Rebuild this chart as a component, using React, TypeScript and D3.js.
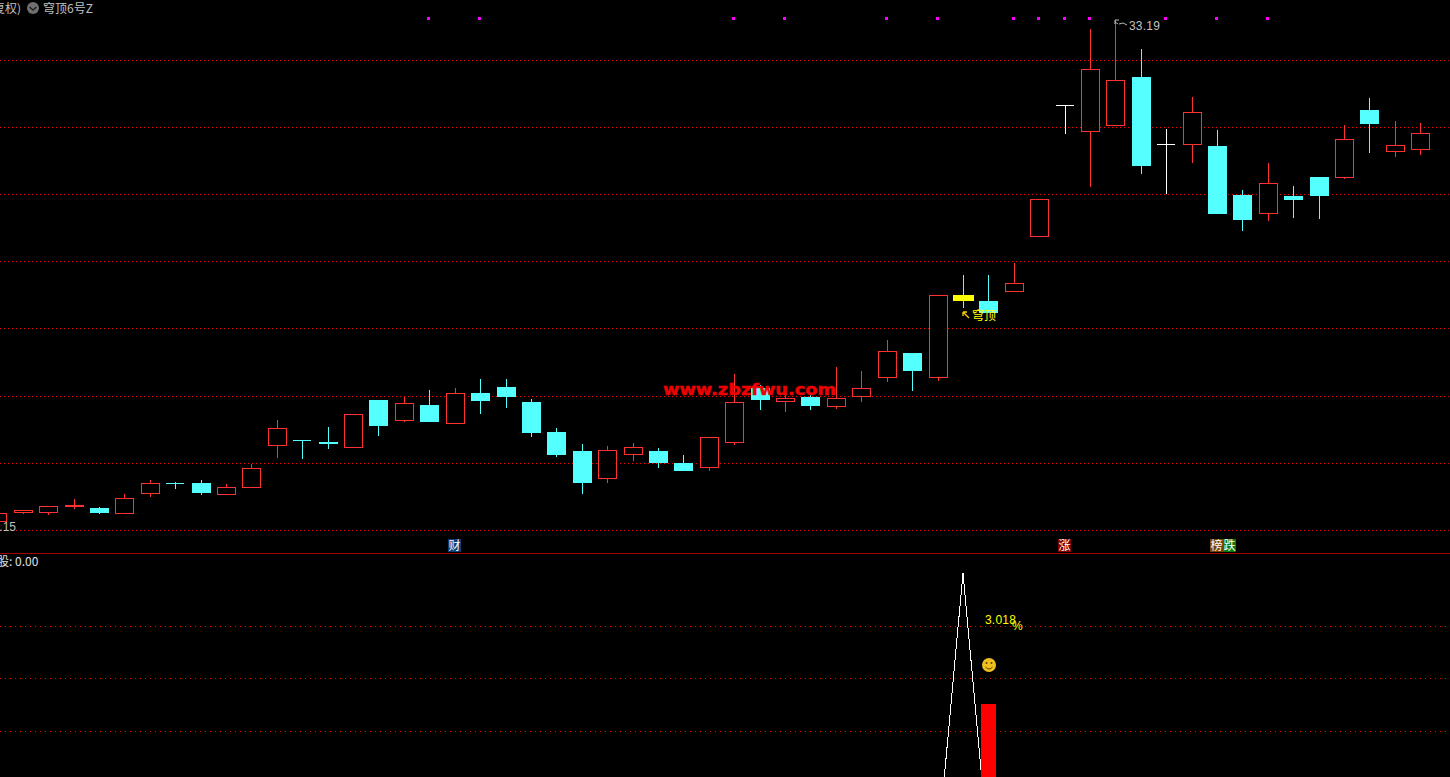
import React from "react";
import * as d3 from "d3";

// Daily candles, prices
const opens = [8.09,8.54,8.54,8.84,8.79,8.49,9.49,10.04,10.04,9.44,9.79,11.89,12.19,12.09,11.79,14.19,13.14,13.94,12.99,14.54,14.84,14.09,12.59,11.64,10.24,11.44,11.64,11.04,10.79,12.04,14.79,14.09,14.34,13.84,14.34,15.29,16.54,15.29,19.44,19.14,19.59,22.34,28.94,27.59,27.89,30.34,26.99,26.94,26.89,24.44,23.49,24.39,25.34,25.29,28.69,26.59,26.69];
const closes = [8.54,8.69,8.89,8.94,8.54,9.29,10.04,10.03,9.54,9.84,10.79,12.79,12.18,11.99,13.49,12.89,14.04,13.09,14.54,14.14,14.34,12.54,11.44,10.04,11.69,11.84,11.04,10.64,12.34,14.09,14.19,14.29,13.89,14.29,14.79,16.64,15.64,19.44,19.14,18.54,20.04,24.24,28.94,30.74,30.19,25.89,26.99,28.59,23.49,23.19,25.04,24.19,24.39,27.24,27.99,26.94,27.54];
const highs = [8.54,8.69,8.89,9.24,8.84,9.49,10.19,10.09,10.19,9.99,10.99,13.19,12.19,12.84,13.49,14.19,14.34,14.69,14.79,15.24,15.24,14.24,12.79,11.99,11.89,12.04,11.79,11.44,12.34,15.49,14.94,14.54,14.54,15.84,15.64,17.19,16.54,19.44,20.44,20.44,21.04,24.24,28.94,32.74,33.19,31.74,27.74,29.34,27.69,24.69,26.04,24.89,25.34,27.94,29.29,28.14,28.04];
const lows = [7.84,8.49,8.44,8.74,8.49,8.49,9.34,9.74,9.44,9.44,9.79,11.29,11.24,11.74,11.79,12.39,13.09,13.09,12.99,13.49,13.79,12.34,11.34,9.49,10.04,11.14,10.79,10.64,10.64,11.94,13.69,13.59,13.69,13.74,14.09,15.09,14.64,15.14,18.79,18.54,19.59,22.34,27.49,24.84,27.89,25.49,24.49,26.04,23.49,22.64,23.14,23.29,23.24,25.24,26.54,26.34,26.44];

const gridPrices = [31.19,27.84,24.49,21.14,17.79,14.39,11.04,7.69];
const signalDays = [17,19,29,31,35,37,40,41,42,43,46,48,50];
const highlightDay = 38;
const peakDay = 44;
const peakLabel = "33.19";

const indicatorDays = [37,38,39];
const indicatorLine = [0,100,0];
const indicatorBarDay = 39;
const indicatorBar = 52;
const indicatorGrid = [80.6,61.5,42.1];

const headerCut = "(复权)";
const headerName = "穹顶6号Z";
const watermark = "www.zbzfwu.com";
const lowLabel = "7.15";
const subTitle = "股: 0.00";
const percentValue = "3.018";
const signalLabel = "穹顶";
const tags = [
  { day: 18, parts: [{ t: "财", bg: "#0b3c72" }] },
  { day: 42, parts: [{ t: "涨", bg: "#7c0000" }] },
  { day: 48, parts: [{ t: "榜", bg: "#7a4200" }, { t: "跌", bg: "#0a7a0a" }] },
];

const W = 1450, H = 777;
const RED = "#ff3232", CYAN = "#54ffff", GRID = "#ff0000";
const SANS = "'Liberation Sans', Arial, sans-serif";
const CJK = "'Noto Sans CJK SC', sans-serif";

const x = d3.scaleLinear().domain([0, 56]).range([-2.66, 1420.3]);
const y = d3.scaleLinear().domain([34.19, -4.66]).range([0, 777]);
const yi = d3.scaleLinear().domain([0, 100]).range([846, 573]);
const px = (i: number) => Math.round(x(i));

function Candle({ i }: { i: number }) {
  const o = opens[i], c = closes[i];
  const cx = px(i);
  const up = c > o;
  const flat = Math.abs(c - o) < 0.02;
  const color = o === c ? "#ffffff" : up ? RED : CYAN;
  const top = Math.round(y(Math.max(o, c)));
  const bot = Math.round(y(Math.min(o, c)));
  const hi = Math.round(y(highs[i]));
  const lo = Math.round(y(lows[i]));
  const left = cx - 9;
  const signal = i === highlightDay;
  return (
    <g>
      <rect x={cx} y={hi} width={1} height={Math.max(lo - hi, 1)} fill={color} />
      {flat ? (
        <rect x={left} y={top} width={18} height={1} fill={color} />
      ) : up ? (
        <rect x={left + 0.5} y={top + 0.5} width={18} height={bot - top - 1} fill="#000" stroke={RED} strokeWidth={1} />
      ) : signal ? (
        <rect x={cx - 10} y={top} width={21} height={bot - top} fill="#ffff00" />
      ) : (
        <rect x={left} y={top} width={19} height={bot - top} fill={CYAN} />
      )}
    </g>
  );
}

export default function App() {
  React.useEffect(() => {
    document.body.style.margin = "0";
    document.body.style.background = "#000";
  }, []);
  const days = d3.range(opens.length);
  const line = d3.line<number>().x((_, k) => px(indicatorDays[k])).y((v) => yi(v));
  const peakX = px(peakDay);
  const peakY = Math.round(y(highs[peakDay]));
  const barX = px(indicatorBarDay);
  const sigX = px(highlightDay);
  return (
    <svg width={W} height={H} viewBox={`0 0 ${W} ${H}`} style={{ display: "block", position: "absolute", left: 0, top: 0, background: "#000" }}>
      {/* grid */}
      {gridPrices.map((p) => (
        <line key={p} x1={0} x2={W} y1={Math.round(y(p)) + 0.5} y2={Math.round(y(p)) + 0.5} stroke={GRID} strokeDasharray="1 3" shapeRendering="crispEdges" />
      ))}
      {indicatorGrid.map((v) => (
        <line key={v} x1={0} x2={W} y1={Math.round(yi(v)) + 0.5} y2={Math.round(yi(v)) + 0.5} stroke={GRID} strokeDasharray="1 4" shapeRendering="crispEdges" />
      ))}
      <line x1={0} x2={W} y1={553.5} y2={553.5} stroke="#a00000" shapeRendering="crispEdges" />

      {/* header */}
      <text x={21} y={13} textAnchor="end" fontFamily={CJK} fontSize={12} fill="#c0c0c0">{headerCut}</text>
      <circle cx={33} cy={8} r={6} fill="#707070" />
      <path d="M29.5 7 L33 10 L36.5 7" fill="none" stroke="#222" strokeWidth={1.5} />
      <text x={43} y={13} fontFamily={CJK} fontSize={12} fill="#c0c0c0">{headerName}</text>

      {/* signal markers */}
      {signalDays.map((d) => (
        <rect key={d} x={px(d) - 2} y={17} width={3} height={3} fill="#ff00ff" />
      ))}

      {/* candles */}
      {days.map((i) => <Candle key={i} i={i} />)}

      {/* peak label */}
      <path d={`M${peakX + 4} ${peakY} H${peakX} V${peakY + 4} M${peakX} ${peakY + 2} L${peakX + 3} ${peakY + 4} M${peakX + 4} ${peakY + 4} L${peakX + 8} ${peakY + 3} L${peakX + 12} ${peakY + 5}`} fill="none" stroke="#b8b8b8" />
      <text x={peakX + 14} y={30} fontFamily={SANS} fontSize={12} fill="#c0c0c0" letterSpacing={0.2}>{peakLabel}</text>

      {/* low label */}
      <text x={16} y={531} textAnchor="end" fontFamily={SANS} fontSize={12} fill="#c0c0c0">{lowLabel}</text>

      {/* signal label */}
      <path d={`M${sigX} 312 L${sigX + 6} 318 M${sigX} 312 V316 M${sigX} 312 H${sigX + 4}`} fill="none" stroke="#ffd000" strokeWidth={1.3} />
      <text x={sigX + 9} y={320} fontFamily={CJK} fontSize={12} fill="#ffff00">{signalLabel}</text>

      {/* watermark */}
      <text x={663} y={395} fontFamily="'DejaVu Sans', sans-serif" fontWeight="bold" fontSize={16} fill="#f00000" stroke="#f00000" strokeWidth={0.4} textLength={173} lengthAdjust="spacingAndGlyphs">{watermark}</text>

      {/* tags */}
      {tags.map((tg) =>
        tg.parts.map((p, k) => {
          const left = px(tg.day) - 7 + k * 13;
          return (
            <g key={p.t}>
              <rect x={left} y={539} width={13} height={13} fill={p.bg} />
              <text x={left + 0.5} y={550} fontFamily={CJK} fontSize={12} fill="#fff">{p.t}</text>
            </g>
          );
        })
      )}

      {/* indicator panel */}
      <text x={-3} y={566} fontFamily={CJK} fontSize={12} fill="#e0e0e0">{subTitle}</text>
      <path d={line(indicatorLine) ?? ""} fill="none" stroke="#fff" strokeWidth={1} shapeRendering="crispEdges" />
      <rect x={barX - 7} y={Math.round(yi(indicatorBar))} width={15} height={H - Math.round(yi(indicatorBar))} fill="#ff0000" />
      <text x={985} y={624} fontFamily={SANS} fontSize={12} fill="#ffff00" letterSpacing={0.2}>{percentValue}</text>
      <text x={1012} y={630} fontFamily={SANS} fontSize={12} fill="#ffff00">%</text>
      <circle cx={989} cy={665} r={7} fill="#f0c020" />
      <circle cx={986.5} cy={663} r={1} fill="#5a4000" />
      <circle cx={991.5} cy={663} r={1} fill="#5a4000" />
      <path d="M985.5 667 Q989 671 992.5 667" fill="none" stroke="#5a4000" />
    </svg>
  );
}
